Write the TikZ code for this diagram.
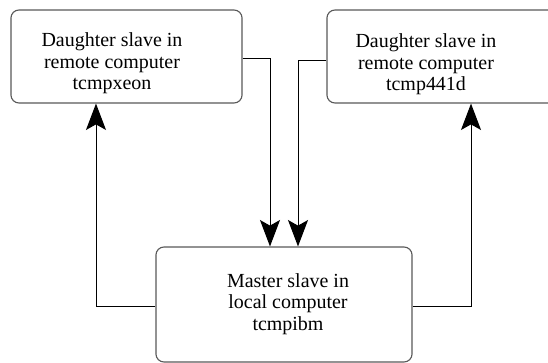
\documentclass[tikz,border=0pt]{standalone}
\usepackage{fontspec}
\setmainfont{Liberation Serif}
\usetikzlibrary{arrows.meta, calc, positioning}

\begin{document}
\begin{tikzpicture}[
    x=0.025cm, y=-0.025cm,
    font=\fontsize{14.2}{15.3}\selectfont,
    box/.style={
        draw=black!65,
        line width=0.8pt,
        rectangle,
        rounded corners=0.2cm,
        fill=white
    },
    txt/.style={
        align=center,
        inner sep=0pt
    },
    flow/.style={
        draw=black,
        line width=0.7pt,
        -{Stealth[length=0.66cm, width=0.5cm, inset=0.14cm]}
    }
]
    \useasboundingbox (0,0) rectangle (548,363);

    % Daughter slaves
    \node [box, minimum width=5.775cm, minimum height=2.325cm] (xeon) at (126.5,56.5) {};
    \node [box, minimum width=5.775cm, minimum height=2.325cm] (p441) at (442.5,56.5) {};

    % Master slave
    \node [box, minimum width=6.4cm, minimum height=2.875cm] (ibm) at (284,304.5) {};

    % Texts
    \node [txt] (xeontxt) at (112,63.5) {Daughter slave in\\remote computer\\tcmpxeon};
    \node [txt] (p441txt) at (426,64.5) {Daughter slave in\\remote computer\\tcmp441d};
    \node [txt] (ibmtxt) at (288,304) {Master slave in\\local computer\\tcmpibm};

    % Daughters to master
    \draw [flow] ([yshift=-0.04cm]xeon.east) -| ([xshift=-0.35cm]ibm.north);
    \draw [flow] ([yshift=-0.09cm]p441.west) -| ([xshift=0.35cm]ibm.north);

    % Master to daughters
    \draw [flow] ([yshift=-0.06cm]ibm.west) -| ([xshift=-0.7625cm]xeon.south);
    \draw [flow] ([yshift=-0.06cm]ibm.east) -| ([xshift=0.7125cm]p441.south);

\end{tikzpicture}
\end{document}
